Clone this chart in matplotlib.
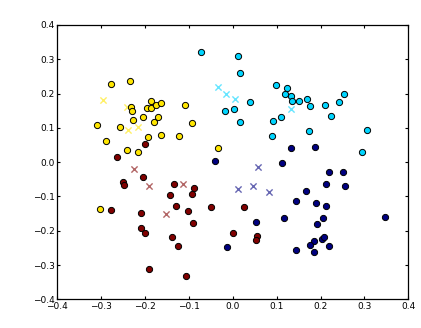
import numpy as np
import matplotlib
matplotlib.use('Agg')
import matplotlib.pyplot as plt

# cluster members (x, y)
yellow_pts = [(-0.310, 0.107), (-0.288, 0.063), (-0.278, 0.229), (-0.235, 0.237), (-0.231, 0.162),
              (-0.229, 0.149), (-0.228, 0.124), (-0.256, 0.102), (-0.240, 0.036), (-0.216, 0.031),
              (-0.204, 0.133), (-0.195, 0.157), (-0.187, 0.177), (-0.186, 0.157), (-0.175, 0.166),
              (-0.164, 0.173), (-0.180, 0.118), (-0.171, 0.133), (-0.193, 0.073), (-0.164, 0.080),
              (-0.122, 0.075), (-0.110, 0.168), (-0.093, 0.113), (-0.034, 0.042), (-0.302, -0.136)]
cyan_pts = [(-0.073, 0.321), (0.013, 0.311), (0.016, 0.259), (0.098, 0.225), (0.124, 0.216),
            (0.120, 0.199), (0.133, 0.192), (0.135, 0.177), (0.150, 0.177), (0.170, 0.184),
            (0.177, 0.163), (0.211, 0.166), (0.242, 0.176), (0.254, 0.199), (0.224, 0.135),
            (0.039, 0.176), (-0.018, 0.150), (0.003, 0.155), (0.017, 0.118), (0.092, 0.120),
            (0.111, 0.131), (0.089, 0.075), (0.173, 0.092), (0.306, 0.093), (0.294, 0.030)]
red_pts = [(-0.200, 0.052), (-0.264, 0.016), (-0.251, -0.057), (-0.247, -0.068), (-0.204, -0.044),
           (-0.278, -0.141), (-0.209, -0.147), (-0.209, -0.192), (-0.199, -0.206), (-0.191, -0.312),
           (-0.143, -0.097), (-0.135, -0.064), (-0.129, -0.129), (-0.139, -0.218), (-0.125, -0.245),
           (-0.106, -0.331), (-0.101, -0.142), (-0.093, -0.093), (-0.089, -0.076), (-0.091, -0.177),
           (-0.049, -0.131), (0.001, -0.206), (0.026, -0.130), (0.056, -0.214), (0.054, -0.226)]
navy_pts = [(-0.041, 0.002), (-0.014, -0.248), (0.132, 0.040), (0.188, 0.044), (0.112, -0.003),
            (0.219, -0.030), (0.252, -0.028), (0.212, -0.064), (0.256, -0.070), (0.166, -0.084),
            (0.144, -0.113), (0.190, -0.119), (0.212, -0.128), (0.053, -0.175), (0.116, -0.162),
            (0.206, -0.163), (0.192, -0.179), (0.346, -0.159), (0.203, -0.223), (0.208, -0.218),
            (0.186, -0.229), (0.176, -0.242), (0.220, -0.245), (0.144, -0.256), (0.186, -0.261)]

# cross markers per cluster
yellow_x = [(-0.296, 0.182), (-0.242, 0.161), (-0.239, 0.094), (-0.216, 0.102)]
cyan_x = [(-0.034, 0.220), (-0.015, 0.200), (0.006, 0.183), (0.133, 0.156)]
red_x = [(-0.226, -0.020), (-0.190, -0.071), (-0.152, -0.152), (-0.114, -0.064)]
navy_x = [(0.058, -0.015), (0.011, -0.079), (0.047, -0.069), (0.083, -0.087)]

ticks = [-0.4, -0.3, -0.2, -0.1, 0.0, 0.1, 0.2, 0.3, 0.4]

jet = plt.get_cmap('jet')
clusters = [(navy_pts, navy_x, jet(0.0)),
            (cyan_pts, cyan_x, jet(1 / 3)),
            (yellow_pts, yellow_x, jet(2 / 3)),
            (red_pts, red_x, jet(1.0))]

fig = plt.figure(figsize=(4.21, 3.28), dpi=100)
ax = fig.add_axes([0.1361, 0.0875, 0.8337, 0.8363])

for pts, xs, col in clusters:
    p = np.array(pts)
    ax.scatter(p[:, 0], p[:, 1], s=20, c=[col], edgecolors='black', linewidths=0.7, zorder=3)
    q = np.array(xs)
    ax.scatter(q[:, 0], q[:, 1], s=20, c=[col], marker='x', linewidths=1.0, alpha=0.6, zorder=2)

ax.set_xlim(-0.4, 0.4)
ax.set_ylim(-0.4, 0.4)
ax.set_xticks(ticks)
ax.set_yticks(ticks)
ax.tick_params(direction='in', length=2.5, width=0.8, top=True, right=True,
               labelsize=6.5, pad=2, colors='black')
for sp in ax.spines.values():
    sp.set_linewidth(0.9)

fig.savefig('out.png', dpi=100, facecolor='white')
